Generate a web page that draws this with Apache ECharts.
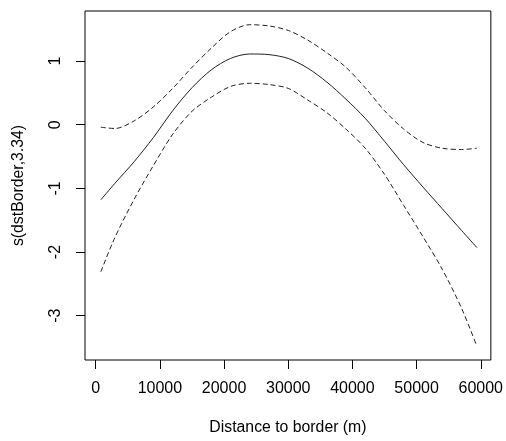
<!DOCTYPE html>
<html>
<head>
<meta charset="utf-8">
<script src="https://cdn.jsdelivr.net/npm/echarts@6/dist/echarts.min.js"></script>
<style>html,body{margin:0;padding:0;background:#fff;}#c{width:506px;height:441px;}</style>
</head>
<body>
<div id="c"></div>
<script>
// Distance to border (m)
var xVals = [800, 3000, 6000, 9000, 12000, 15000, 18000, 21000, 24000, 27000, 30000, 33000, 36000, 39000, 42000, 45000, 48000, 51000, 54000, 57000, 59400];
// smooth term estimate
var fitVals = [-1.18, -0.92, -0.58, -0.20, 0.22, 0.58, 0.86, 1.04, 1.11, 1.10, 1.04, 0.89, 0.67, 0.40, 0.10, -0.26, -0.63, -0.98, -1.32, -1.66, -1.93];
// upper confidence band
var upperVals = [-0.04, -0.06, 0.06, 0.28, 0.57, 0.90, 1.20, 1.46, 1.57, 1.55, 1.48, 1.33, 1.13, 0.90, 0.58, 0.22, -0.07, -0.28, -0.37, -0.39, -0.37];
// lower confidence band
var lowerVals = [-2.31, -1.77, -1.17, -0.64, -0.15, 0.21, 0.43, 0.60, 0.65, 0.63, 0.57, 0.39, 0.19, -0.07, -0.37, -0.78, -1.27, -1.76, -2.27, -2.88, -3.48];
var xTicks = [0, 10000, 20000, 30000, 40000, 50000, 60000];
var yTicks = [-3, -2, -1, 0, 1];
var xTitle = 'Distance to border (m)';
var yTitle = 's(dstBorder,3.34)';

function pairs(xs, ys) { return xs.map(function (x, i) { return [x, ys[i]]; }); }

var font = '"Liberation Sans", Arial, sans-serif';
var chart = echarts.init(document.getElementById('c'), null, {renderer: 'canvas'});
chart.setOption({
  animation: false,
  backgroundColor: '#fff',
  textStyle: {fontFamily: font, fontSize: 16, color: '#000'},
  grid: {left: 85, top: 11, width: 406, height: 349, show: true, borderColor: '#000', borderWidth: 1, backgroundColor: 'transparent'},
  xAxis: {
    type: 'value', min: -1667, max: 61573,
    splitLine: {show: false},
    axisLine: {show: false, onZero: false},
    axisTick: {show: true, inside: false, length: 9, customValues: xTicks, lineStyle: {color: '#000', width: 1}},
    axisLabel: {customValues: xTicks, margin: 21, fontSize: 16, color: '#000', fontFamily: font, formatter: function (v) { return String(v); }},
    name: xTitle, nameLocation: 'middle', nameGap: 60,
    nameTextStyle: {fontSize: 15.8, color: '#000', fontFamily: font}
  },
  yAxis: {
    type: 'value', min: -3.695, max: 1.785,
    splitLine: {show: false},
    axisLine: {show: false, onZero: false},
    axisTick: {show: true, inside: false, length: 9, customValues: yTicks, lineStyle: {color: '#000', width: 1}},
    axisLabel: {customValues: yTicks, rotate: 90, margin: 21, fontSize: 16, color: '#000', fontFamily: font, formatter: function (v) { return String(v); }},
    name: yTitle, nameLocation: 'middle', nameGap: 58, nameRotate: 90,
    nameTextStyle: {fontSize: 15.8, color: '#000', fontFamily: font}
  },
  series: [
    {type: 'line', data: pairs(xVals, fitVals), smooth: 0.3, showSymbol: false, lineStyle: {color: '#222', width: 1, type: 'solid'}},
    {type: 'line', data: pairs(xVals, upperVals), smooth: 0.3, showSymbol: false, lineStyle: {color: '#222', width: 1, type: [5, 3]}},
    {type: 'line', data: pairs(xVals, lowerVals), smooth: 0.3, showSymbol: false, lineStyle: {color: '#222', width: 1, type: [5, 3]}}
  ]
});
</script>
</body>
</html>
